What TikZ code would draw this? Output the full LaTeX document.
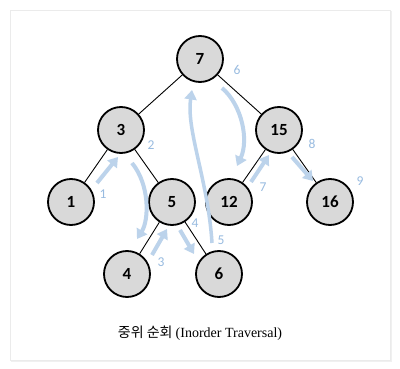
\documentclass[tikz,border=0pt]{standalone}
\usepackage{fontspec}
\setmainfont{Carlito}
\newfontfamily\krfont{Noto Sans CJK KR}
\newfontfamily\capserif{Liberation Serif}
\usetikzlibrary{arrows.meta}
\definecolor{trav}{HTML}{BCD3EB}
\definecolor{travtxt}{HTML}{98BBE0}
\begin{document}
\begin{tikzpicture}[x=1pt,y=-1pt,
  nd/.style={circle,draw=black,line width=1.8pt,fill=black!15,minimum size=46pt,inner sep=0pt,font=\bfseries\fontsize{17}{17}\selectfont},
  edge/.style={line width=0.9pt},
  tr/.style={draw=trav,line width=4pt,-{Triangle[length=9.5pt,width=12pt]}},
  lab/.style={text=travtxt,font=\fontsize{13.5}{13.5}\selectfont}]
\useasboundingbox (0,0) rectangle (400,369);
% card
\fill[black!6] (11,11) rectangle (392,362);
\fill[white,draw=black!8] (10,10) rectangle (390,360);
% nodes
\node[nd] (n7) at (200,59) {7};
\node[nd] (n3) at (121,130) {3};
\node[nd] (n15) at (279,130) {15};
\node[nd] (n1) at (71,202) {1};
\node[nd] (n5) at (172,202) {5};
\node[nd] (n12) at (229,202) {12};
\node[nd] (n16) at (330,202) {16};
\node[nd] (n4) at (127,274) {4};
\node[nd] (n6) at (219,274) {6};
% edges
\draw[edge] (n7) -- (n3);
\draw[edge] (n7) -- (n15);
\draw[edge] (n3) -- (n1);
\draw[edge] (n3) -- (n5);
\draw[edge] (n5) -- (n4);
\draw[edge] (n5) -- (n6);
\draw[edge] (n15) -- (n12);
\draw[edge] (n15) -- (n16);
% traversal arrows
\coordinate (a1s) at (97,183);  \coordinate (a1e) at (118,157);
\coordinate (a2s) at (132,163); \coordinate (a2e) at (137,239);
\coordinate (a3s) at (152,255); \coordinate (a3e) at (167,229);
\coordinate (a4s) at (180,230); \coordinate (a4e) at (194,254);
\coordinate (a5s) at (212,243); \coordinate (a5e) at (192,90);
\coordinate (a6s) at (222,88);  \coordinate (a6e) at (237,166);
\coordinate (a7s) at (251,182); \coordinate (a7e) at (269,155);
\coordinate (a8s) at (292,157); \coordinate (a8e) at (313,181);
\draw[tr] (a1s) -- (a1e);
\draw[tr] (a2s) .. controls (150,185) and (149,220) .. (a2e);
\draw[tr] (a3s) -- (a3e);
\draw[tr] (a4s) -- (a4e);
\draw[tr,line width=3.5pt] (a5s) .. controls (208,180) and (186,130) .. (a5e);
\draw[tr] (a6s) .. controls (242,105) and (249,140) .. (a6e);
\draw[tr] (a7s) -- (a7e);
\draw[tr] (a8s) -- (a8e);
% step labels
\node[lab] (l1) at (103,194) {1};
\node[lab] (l2) at (151,145) {2};
\node[lab] (l3) at (161,262) {3};
\node[lab] (l4) at (195,223) {4};
\node[lab] (l5) at (221,240) {5};
\node[lab] (l6) at (237,70) {6};
\node[lab] (l7) at (263,187) {7};
\node[lab] (l8) at (312,144) {8};
\node[lab] (l9) at (360,181) {9};
% caption
\node (cap) at (200,333) {\fontsize{14}{14}\selectfont{\krfont 중위 순회} {\capserif (Inorder Traversal)}};
\end{tikzpicture}
\end{document}
